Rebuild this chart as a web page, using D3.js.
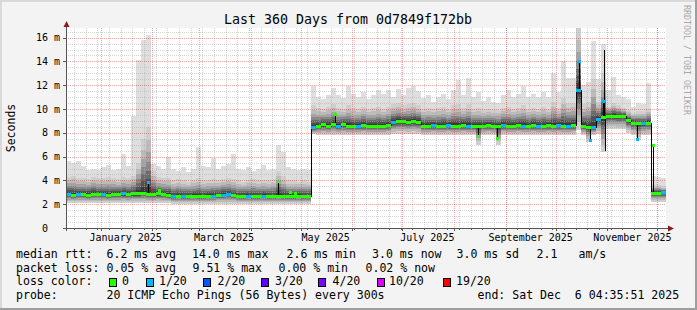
<!DOCTYPE html>
<html>
<head>
<meta charset="utf-8">
<script src="https://cdn.jsdelivr.net/npm/d3@7"></script>
<style>
html, body { margin: 0; padding: 0; background: #f3f3f3; }
svg { display: block; font-family: "DejaVu Sans Mono", monospace; }
svg text { white-space: pre; }
</style>
</head>
<body>
<div id="chart"></div>
<script>
const width = 697, height = 310;

// time span of the graph: 360 days, one value per 3-day bucket
const startTime = new Date(2024, 11, 11, 4, 35, 51);
const endTime = new Date(2025, 11, 6, 4, 35, 51);
const bucketDays = 3;

// median rtt per bucket (ms)
const median = [
  2.85, 2.8, 2.85, 2.85, 2.8, 2.85, 2.85, 2.85, 2.8, 2.85,
  2.85, 2.9, 2.85, 2.9, 2.9, 2.95, 2.85, 2.85, 2.9, 2.85,
  2.75, 2.65, 2.7, 2.65, 2.65, 2.7, 2.65, 2.65, 2.7, 2.7,
  2.75, 2.8, 2.85, 2.75, 2.65, 2.65, 2.7, 2.65, 2.65, 2.7,
  2.65, 2.65, 2.7, 2.65, 2.65, 2.65, 2.7, 2.65, 2.65, 8.45,
  8.6, 8.7, 8.6, 8.75, 8.6, 8.7, 8.6, 8.55, 8.6, 8.65,
  8.6, 8.55, 8.6, 8.6, 8.65, 8.9, 8.95, 8.95, 8.9, 8.95,
  8.9, 8.6, 8.6, 8.65, 8.6, 8.6, 8.65, 8.6, 8.6, 8.65,
  8.6, 8.6, 8.55, 8.6, 8.65, 8.6, 8.55, 8.65, 8.6, 8.6,
  8.65, 8.6, 8.6, 8.65, 8.6, 8.6, 8.65, 8.6, 8.65, 8.6,
  8.6, 8.65, 11.6, 8.6, 8.5, 8.5, 9.2, 9.3, 9.45, 9.45,
  9.4, 9.4, 9.05, 8.85, 8.8, 8.8, 8.85, 2.95, 2.95, 3.0
];

// packet loss per bucket (index into lossLabels)
const loss = [
  1, 0, 1, 0, 0, 0, 0, 1, 0, 0,
  0, 1, 0, 0, 0, 0, 0, 0, 0, 0,
  0, 1, 0, 1, 0, 0, 0, 0, 0, 1,
  0, 1, 1, 0, 0, 0, 1, 0, 0, 1,
  0, 0, 0, 0, 0, 0, 0, 0, 0, 1,
  0, 0, 0, 0, 1, 0, 0, 0, 1, 0,
  0, 0, 0, 0, 0, 1, 0, 0, 0, 0,
  0, 0, 0, 1, 0, 0, 1, 0, 0, 0,
  1, 0, 0, 0, 0, 0, 0, 1, 0, 0,
  0, 1, 0, 0, 1, 0, 0, 0, 1, 0,
  1, 0, 1, 0, 0, 1, 1, 0, 0, 0,
  0, 0, 0, 0, 0, 1, 0, 0, 0, 1
];

// lowest ping per bucket (ms)
const pingLow = [
  2.1, 2.1, 2.1, 2.1, 2.1, 2.1, 2.1, 2.1, 2.1, 2.1,
  2.1, 2.1, 2.1, 2.1, 2.1, 2.1, 2.1, 2.1, 2.1, 2.1,
  2.1, 2.05, 2.05, 2.05, 2.05, 2.05, 2.05, 2.05, 2.05, 2.05,
  2.05, 2.05, 2.05, 2.05, 2.05, 2.05, 2.05, 2.05, 2.05, 2.05,
  2.05, 2.05, 2.05, 2.05, 2.05, 2.05, 2.05, 2.05, 2.05, 7.9,
  7.8, 7.8, 7.8, 7.8, 7.8, 7.8, 7.8, 7.8, 7.8, 7.8,
  7.8, 7.8, 7.8, 7.8, 7.8, 7.9, 7.9, 7.9, 7.9, 7.9,
  7.9, 7.8, 7.8, 7.8, 7.8, 7.8, 7.8, 7.8, 7.8, 7.8,
  7.8, 7.8, 7.0, 7.8, 7.8, 7.8, 7.0, 7.8, 7.8, 7.8,
  7.8, 7.8, 7.8, 7.8, 7.8, 7.8, 7.8, 7.8, 7.8, 7.8,
  7.8, 7.8, 8.2, 7.8, 7.2, 7.8, 7.9, 6.4, 8.3, 8.3,
  8.3, 8.3, 8.0, 7.8, 7.4, 7.8, 7.8, 2.2, 2.2, 2.2
];

// top of the dense smoke per bucket (ms)
const pingHigh = [
  4.3, 4.4, 4.2, 4.2, 4.1, 4.3, 4.2, 4.2, 4.3, 4.2,
  4.1, 4.3, 4.2, 4.4, 5.5, 7.5, 8.5, 4.8, 4.3, 4.2,
  4.2, 4.0, 4.1, 4.0, 3.9, 4.0, 4.2, 4.0, 4.0, 4.1,
  4.0, 4.1, 4.2, 4.1, 4.0, 3.9, 4.0, 4.1, 4.0, 4.0,
  4.0, 4.1, 4.8, 4.4, 4.0, 4.0, 3.9, 4.0, 3.9, 10.3,
  10.1, 10.0, 10.2, 10.4, 10.1, 10.0, 10.3, 10.1, 10.0, 10.2,
  10.0, 10.1, 10.2, 10.0, 10.2, 10.4, 10.5, 10.3, 10.4, 10.5,
  10.3, 10.0, 10.1, 10.0, 10.1, 10.2, 10.0, 10.3, 10.4, 10.1,
  10.4, 10.0, 10.1, 9.9, 10.0, 9.9, 9.9, 10.1, 10.2, 10.0,
  10.1, 10.3, 10.0, 10.1, 10.0, 10.2, 10.0, 10.6, 10.1, 10.9,
  10.5, 10.5, 16.8, 10.4, 10.6, 12.5, 10.6, 13.0, 10.2, 10.5,
  10.3, 10.1, 9.9, 9.7, 9.8, 9.8, 10.0, 3.6, 3.6, 3.5
];

// highest ping per bucket (ms)
const pingMax = [
  5.6, 5.5, 5.6, 5.2, 4.9, 5.0, 4.9, 5.1, 5.3, 4.9,
  5.0, 6.2, 5.2, 9.4, 14.1, 15.8, 16.2, 5.4, 5.2, 5.0,
  6.0, 5.0, 4.8, 5.1, 4.7, 5.0, 6.8, 5.2, 5.1, 5.9,
  5.0, 5.2, 5.4, 6.2, 5.0, 4.9, 5.1, 4.8, 5.0, 5.3,
  4.9, 5.0, 7.0, 6.4, 5.1, 5.0, 4.9, 5.0, 4.9, 11.9,
  11.0, 10.8, 11.2, 11.8, 11.2, 10.9, 11.9, 11.3, 11.0, 11.4,
  10.8, 11.2, 11.6, 11.3, 11.6, 11.0, 11.7, 11.2, 11.8, 11.9,
  11.5, 10.9, 11.2, 10.6, 11.0, 11.3, 10.8, 11.6, 12.4, 11.2,
  12.6, 11.0, 11.4, 10.7, 11.0, 10.6, 10.5, 11.2, 11.6, 11.0,
  11.3, 11.9, 11.0, 11.3, 11.0, 11.4, 11.0, 13.0, 11.4, 14.0,
  12.6, 12.6, 16.8, 12.0, 12.3, 15.7, 12.5, 15.5, 11.6, 12.7,
  11.2, 11.0, 10.8, 10.2, 10.5, 10.4, 12.2, 4.4, 4.3, 4.2
];

// short median excursions: day offset from start, value (ms), loss index (-1 = no dot)
const spikeDay = [49.2, 55.8, 127.2, 134.4, 137.4, 161.4, 247.2, 258.6, 307.5, 314.4, 322.2, 322.8, 323.4, 342.6, 352.2];
const spikeMs = [3.9, 3.2, 3.95, 3.05, 2.95, 9.6, 7.7, 7.6, 14.0, 7.4, 10.7, 15.0, 6.5, 7.5, 7.0];
const spikeLoss = [1, 0, 0, 0, 0, 0, 0, 0, 1, 1, 1, -1, -1, 1, 0];

const lossLabels = ["0", "1/20", "2/20", "3/20", "4/20", "10/20", "19/20"];
const lossColors = ["#26ff00", "#00b8ff", "#0059ff", "#5e00ff", "#7e00ff", "#dd00ff", "#ff0000"];

const yTicks = [0, 2, 4, 6, 8, 10, 12, 14, 16];
const monthLabels = ["January 2025", "March 2025", "May 2025", "July 2025", "September 2025", "November 2025"];
const monthLabelDates = [new Date(2025, 0, 16), new Date(2025, 2, 16), new Date(2025, 4, 16),
                         new Date(2025, 6, 16), new Date(2025, 8, 16), new Date(2025, 10, 16)];

const plot = {left: 66, right: 666, top: 28, bottom: 228};

const x = d3.scaleTime().domain([startTime, endTime]).range([plot.left, plot.right]);
const y = d3.scaleLinear().domain([0, 200 / 11.9]).range([plot.bottom, plot.top]);

const bucketTime = i => new Date(+startTime + i * bucketDays * 864e5);
const dayTime = d => new Date(+startTime + d * 864e5);

const svg = d3.select("#chart").append("svg")
    .attr("width", width)
    .attr("height", height);

// background + frame
svg.append("rect").attr("width", width).attr("height", height).attr("fill", "#f3f3f3");
svg.append("rect").attr("x", 0).attr("y", 0).attr("width", width).attr("height", 2).attr("fill", "#d9d9d9");
svg.append("rect").attr("x", 0).attr("y", 0).attr("width", 2).attr("height", height).attr("fill", "#d9d9d9");
svg.append("rect").attr("x", 0).attr("y", height - 2).attr("width", width).attr("height", 2).attr("fill", "#9e9e9e");
svg.append("rect").attr("x", width - 2).attr("y", 0).attr("width", 2).attr("height", height).attr("fill", "#9e9e9e");

svg.append("rect")
    .attr("x", plot.left).attr("y", plot.top)
    .attr("width", plot.right - plot.left).attr("height", plot.bottom - plot.top)
    .attr("fill", "#ffffff");

const buckets = d3.range(median.length).map(i => ({
  i: i,
  x0: x(bucketTime(i)),
  x1: x(bucketTime(i + 1)),
  med: median[i],
  lo: pingLow[i],
  hi: pingHigh[i],
  max: pingMax[i],
  loss: loss[i]
}));

// smoke: light max area, then denser layers toward the median
const smoke = svg.append("g").attr("shape-rendering", "crispEdges");
smoke.selectAll("rect.max")
  .data(buckets)
  .join("rect")
    .attr("class", "max")
    .attr("x", d => d.x0)
    .attr("width", d => d.x1 - d.x0)
    .attr("y", d => y(d.max))
    .attr("height", d => y(d.med) - y(d.max))
    .attr("fill", "#dedede");

const shades = [[1, "#cfcfcf"], [0.8, "#bbbbbb"], [0.62, "#a3a3a3"], [0.47, "#888888"],
                [0.34, "#6c6c6c"], [0.22, "#515151"], [0.11, "#3a3a3a"]];
shades.forEach(([f, col]) => {
  smoke.append("g").selectAll("rect")
    .data(buckets)
    .join("rect")
      .attr("x", d => d.x0)
      .attr("width", d => d.x1 - d.x0)
      .attr("y", d => y(d.med + (d.hi - d.med) * f))
      .attr("height", d => y(d.med - (d.med - d.lo) * f) - y(d.med + (d.hi - d.med) * f))
      .attr("fill", col);
});

// grid
const grid = svg.append("g").attr("stroke-dasharray", "1,1").attr("stroke-width", 1);
const minorY = d3.range(0.5, 16.6, 0.5).filter(v => v % 2 !== 0);
grid.selectAll("line.minor-y")
  .data(minorY)
  .join("line")
    .attr("x1", plot.left).attr("x2", plot.right)
    .attr("y1", d => Math.round(y(d)) + 0.5).attr("y2", d => Math.round(y(d)) + 0.5)
    .attr("stroke", "rgba(170,170,170,0.5)");
const weeks = d3.timeMonday.range(startTime, endTime);
grid.selectAll("line.minor-x")
  .data(weeks)
  .join("line")
    .attr("x1", d => Math.round(x(d)) + 0.5).attr("x2", d => Math.round(x(d)) + 0.5)
    .attr("y1", plot.top).attr("y2", plot.bottom)
    .attr("stroke", "rgba(170,170,170,0.5)");
grid.selectAll("line.major-y")
  .data(yTicks.slice(1))
  .join("line")
    .attr("x1", plot.left).attr("x2", plot.right)
    .attr("y1", d => Math.round(y(d)) + 0.5).attr("y2", d => Math.round(y(d)) + 0.5)
    .attr("stroke", "rgba(255,0,0,0.35)");
const months = d3.timeMonth.range(startTime, endTime);
grid.selectAll("line.major-x")
  .data(months)
  .join("line")
    .attr("x1", d => Math.round(x(d)) + 0.5).attr("x2", d => Math.round(x(d)) + 0.5)
    .attr("y1", plot.top).attr("y2", plot.bottom)
    .attr("stroke", "rgba(255,0,0,0.35)");

// median line (black step) with loss-coloured segments
const medianLine = d3.line()
    .x(d => d[0])
    .y(d => Math.round(y(d[1])) + 0.5)
    .curve(d3.curveStepAfter);
const medPts = buckets.map(d => [d.x0, d.med]);
medPts.push([plot.right, median[median.length - 1]]);
svg.append("path")
    .attr("d", medianLine(medPts))
    .attr("fill", "none")
    .attr("stroke", "#000")
    .attr("stroke-width", 1)
    .attr("shape-rendering", "crispEdges");

const spikes = spikeDay.map((d, k) => {
  const b = Math.floor(d / bucketDays);
  return {x: Math.round(x(dayTime(d))) + 0.5, from: median[b], to: spikeMs[k], loss: spikeLoss[k]};
});
svg.append("g").selectAll("line")
  .data(spikes)
  .join("line")
    .attr("x1", d => d.x).attr("x2", d => d.x)
    .attr("y1", d => y(d.from)).attr("y2", d => y(d.to))
    .attr("stroke", "#000")
    .attr("shape-rendering", "crispEdges");

svg.append("g").attr("shape-rendering", "crispEdges").selectAll("rect")
  .data(buckets)
  .join("rect")
    .attr("x", d => d.x0)
    .attr("width", d => d.x1 - d.x0)
    .attr("y", d => Math.round(y(d.med)) - 1)
    .attr("height", 3)
    .attr("fill", d => lossColors[d.loss]);

svg.append("g").attr("shape-rendering", "crispEdges").selectAll("rect")
  .data(spikes.filter(d => d.loss >= 0))
  .join("rect")
    .attr("x", d => d.x - 1.5)
    .attr("width", 3)
    .attr("y", d => Math.round(y(d.to)) - 1)
    .attr("height", 3)
    .attr("fill", d => lossColors[d.loss]);

// axes
const axis = svg.append("g").attr("shape-rendering", "crispEdges").attr("stroke", "#555");
axis.append("line").attr("x1", plot.left + 0.5).attr("x2", plot.left + 0.5)
    .attr("y1", plot.bottom + 3).attr("y2", plot.top - 4);
axis.append("line").attr("x1", plot.left - 3).attr("x2", plot.right + 4)
    .attr("y1", plot.bottom + 0.5).attr("y2", plot.bottom + 0.5);
axis.selectAll("line.ty")
  .data(yTicks)
  .join("line")
    .attr("x1", plot.left - 3).attr("x2", plot.left)
    .attr("y1", d => Math.round(y(d)) + 0.5).attr("y2", d => Math.round(y(d)) + 0.5);
axis.selectAll("line.tx")
  .data(months)
  .join("line")
    .attr("x1", d => Math.round(x(d)) + 0.5).attr("x2", d => Math.round(x(d)) + 0.5)
    .attr("y1", plot.bottom).attr("y2", plot.bottom + 3);
axis.selectAll("line.twk")
  .data(weeks)
  .join("line")
    .attr("x1", d => Math.round(x(d)) + 0.5).attr("x2", d => Math.round(x(d)) + 0.5)
    .attr("y1", plot.bottom).attr("y2", plot.bottom + 2);

svg.append("path")
    .attr("d", `M${plot.left - 2.5},${plot.top - 1}L${plot.left + 3.5},${plot.top - 1}L${plot.left + 0.5},${plot.top - 7}Z`)
    .attr("fill", "#8b1c1c");
svg.append("path")
    .attr("d", `M${plot.right + 2},${plot.bottom - 2.5}L${plot.right + 2},${plot.bottom + 3.5}L${plot.right + 8},${plot.bottom + 0.5}Z`)
    .attr("fill", "#8b1c1c");

// y tick labels
const yl = svg.append("g").attr("font-size", "10px").attr("fill", "#000");
yl.selectAll("text.num")
  .data(yTicks)
  .join("text")
    .attr("x", 48).attr("y", d => y(d) + 3.5)
    .attr("text-anchor", "end")
    .text(d => d);
yl.selectAll("text.unit")
  .data(yTicks.filter(d => d > 0))
  .join("text")
    .attr("x", 54).attr("y", d => y(d) + 3.5)
    .text("m");

// x month labels
svg.append("g").attr("font-size", "10px").selectAll("text")
  .data(monthLabels)
  .join("text")
    .attr("x", (d, i) => x(monthLabelDates[i]))
    .attr("y", 241)
    .attr("text-anchor", "middle")
    .text(d => d);

// title, axis label, watermark
svg.append("text")
    .attr("x", 348).attr("y", 24)
    .attr("text-anchor", "middle")
    .attr("font-size", "13.3px")
    .text("Last 360 Days from 0d7849f172bb");
svg.append("text")
    .attr("transform", "translate(15,128) rotate(-90)")
    .attr("text-anchor", "middle")
    .attr("font-size", "11.5px")
    .text("Seconds");
svg.append("text")
    .attr("transform", "translate(684,5) rotate(90)")
    .attr("font-size", "8.3px")
    .attr("fill", "#a8a8a8")
    .text("RRDTOOL / TOBI OETIKER");

// legend
const legendRows = [
  [[16, "median rtt:"], [106.5, "6.2 ms avg"], [192, "14.0 ms max"], [286.5, "2.6 ms min"],
   [372, "3.0 ms now"], [456.5, "3.0 ms sd"], [536.5, "2.1"], [578.5, "am/s"]],
  [[16, "packet loss:"], [106.5, "0.05 % avg"], [192.5, "9.51 % max"], [278.5, "0.00 % min"], [365.5, "0.02 % now"]],
  [[16, "loss color:"]],
  [[16, "probe:"], [106.5, "20 ICMP Echo Pings (56 Bytes) every 300s"], [477.5, "end: Sat Dec  6 04:35:51 2025"]]
];
const legendY = [258, 271.7, 285.4, 299];
const legend = svg.append("g").attr("font-size", "11.55px");
legendRows.forEach((row, r) => {
  legend.append("g").selectAll("text")
    .data(row)
    .join("text")
      .attr("x", d => d[0]).attr("y", legendY[r])
      .attr("xml:space", "preserve")
      .text(d => d[1]);
});
const boxX = [109, 145.5, 203, 260.5, 318, 376.5, 442.5];
const boxLabelX = [122, 159, 217.5, 275, 332.5, 389, 456];
legend.append("g").selectAll("rect")
  .data(lossColors)
  .join("rect")
    .attr("x", (d, i) => boxX[i] + 0.5).attr("y", 278.5)
    .attr("width", 7).attr("height", 8)
    .attr("fill", d => d)
    .attr("stroke", "#000")
    .attr("shape-rendering", "crispEdges");
legend.append("g").selectAll("text")
  .data(lossLabels)
  .join("text")
    .attr("x", (d, i) => boxLabelX[i]).attr("y", legendY[2])
    .text(d => d);
</script>
</body>
</html>
